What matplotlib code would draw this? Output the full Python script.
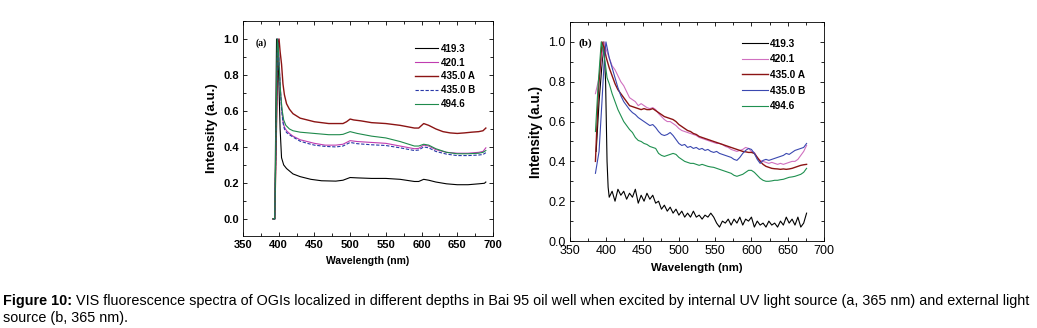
import numpy as np
import matplotlib
matplotlib.use("Agg")
import matplotlib.pyplot as plt
from matplotlib.ticker import MultipleLocator, FormatStrFormatter

plt.rcParams['font.family'] = ['Liberation Sans', 'DejaVu Sans']

# ---------- panel (a): internal UV source, smooth spectra ----------
a_labels = ["419.3", "420.1", "435.0 A", "435.0 B", "494.6"]

a_wl_419 = [392, 394.5, 397, 398.5, 400, 402, 404, 407, 411, 420, 430, 445, 460, 480, 490, 500,
            510, 530, 550, 570, 590, 596, 603, 610, 620, 635, 650, 665, 680, 688, 690]
a_in_419 = [0, 0, 1.0, 0.95, 0.8, 0.5, 0.34, 0.30, 0.28, 0.25, 0.235, 0.22, 0.212, 0.21, 0.215, 0.23,
            0.228, 0.225, 0.225, 0.22, 0.208, 0.208, 0.22, 0.215, 0.205, 0.195, 0.19, 0.19, 0.195, 0.198, 0.205]

a_wl_420 = [392, 394.5, 399, 400.5, 402, 404, 406, 408, 411, 415, 420, 430, 440, 450, 465, 480, 490,
            500, 510, 530, 550, 570, 590, 596, 603, 610, 620, 635, 650, 665, 680, 686, 690]
a_in_420 = [0, 0, 1.0, 0.9, 0.75, 0.62, 0.545, 0.51, 0.49, 0.475, 0.46, 0.44, 0.43, 0.42, 0.41, 0.41, 0.415,
            0.435, 0.43, 0.425, 0.42, 0.405, 0.39, 0.392, 0.41, 0.405, 0.385, 0.37, 0.365, 0.365, 0.37, 0.375, 0.395]

a_wl_435a = [392, 394.5, 399, 400.5, 402, 404, 406, 408, 411, 415, 420, 430, 440, 450, 460, 470, 480, 490,
             495, 500, 505, 515, 530, 550, 570, 590, 596, 603, 610, 620, 630, 640, 650, 660, 670, 680, 686, 690]
a_in_435a = [0, 0, 0.97, 1.0, 0.93, 0.86, 0.75, 0.69, 0.64, 0.61, 0.585, 0.56, 0.55, 0.54, 0.535, 0.53, 0.53, 0.53,
             0.54, 0.555, 0.55, 0.545, 0.535, 0.53, 0.52, 0.505, 0.505, 0.53, 0.52, 0.5, 0.485, 0.478, 0.475, 0.478,
             0.482, 0.485, 0.49, 0.505]

a_wl_435b = [392, 394.5, 398.5, 400, 402, 404, 406, 408, 411, 415, 420, 430, 440, 450, 465, 480, 490,
             500, 510, 530, 550, 570, 590, 596, 603, 610, 620, 635, 650, 665, 680, 686, 690]
a_in_435b = [0, 0, 1.0, 0.9, 0.74, 0.61, 0.535, 0.5, 0.48, 0.468, 0.455, 0.432, 0.42, 0.41, 0.403, 0.4, 0.405,
             0.425, 0.418, 0.412, 0.408, 0.395, 0.38, 0.383, 0.4, 0.395, 0.375, 0.36, 0.352, 0.352, 0.355, 0.358, 0.368]

a_wl_494 = [392, 394.5, 398, 399.5, 401, 403, 405, 407, 410, 415, 420, 430, 450, 470, 485, 490, 500, 510,
            530, 550, 570, 590, 596, 603, 610, 620, 635, 650, 665, 680, 686, 690]
a_in_494 = [0, 0, 1.0, 0.95, 0.82, 0.68, 0.6, 0.55, 0.52, 0.5, 0.49, 0.482, 0.475, 0.468, 0.468, 0.47, 0.485, 0.475,
            0.46, 0.45, 0.43, 0.405, 0.405, 0.415, 0.41, 0.39, 0.37, 0.362, 0.362, 0.365, 0.37, 0.38]

# ---------- panel (b): external source, noisy spectra ----------
b_grid = list(range(404, 680, 4))   # sampling positions after the peak

b_head_wl_419 = [386, 390, 396.5, 399, 401, 402.5]
b_head_in_419 = [0.45, 0.7, 1.0, 0.8, 0.4, 0.27]
b_in_419 = [0.22, 0.25, 0.20, 0.26, 0.23, 0.25, 0.21, 0.24, 0.22, 0.26,
            0.19, 0.23, 0.20, 0.24, 0.21, 0.23, 0.19, 0.20, 0.16, 0.18,
            0.15, 0.17, 0.14, 0.16, 0.13, 0.15, 0.12, 0.14, 0.12, 0.15,
            0.12, 0.13, 0.11, 0.13, 0.12, 0.14, 0.12, 0.09, 0.07, 0.10,
            0.09, 0.11, 0.08, 0.11, 0.09, 0.12, 0.08, 0.11, 0.10, 0.12,
            0.07, 0.10, 0.08, 0.09, 0.07, 0.10, 0.08, 0.09, 0.07, 0.10,
            0.08, 0.12, 0.09, 0.11, 0.08, 0.12, 0.07, 0.09, 0.14]

b_head_wl_420 = [385, 390, 393, 397, 400]
b_head_in_420 = [0.74, 0.82, 0.9, 1.0, 0.96]
b_in_420 = [0.92, 0.88, 0.86, 0.83, 0.80, 0.78, 0.75, 0.72, 0.71, 0.70,
            0.68, 0.69, 0.68, 0.67, 0.665, 0.67, 0.66, 0.64, 0.625, 0.61,
            0.60, 0.60, 0.59, 0.58, 0.565, 0.555, 0.55, 0.545, 0.54, 0.535,
            0.53, 0.52, 0.515, 0.51, 0.505, 0.50, 0.495, 0.49, 0.49, 0.485,
            0.475, 0.47, 0.46, 0.455, 0.45, 0.455, 0.46, 0.47, 0.465, 0.45,
            0.445, 0.42, 0.405, 0.40, 0.395, 0.39, 0.395, 0.39, 0.385, 0.39,
            0.385, 0.39, 0.395, 0.40, 0.40, 0.41, 0.43, 0.45, 0.48]

b_head_wl_435a = [385, 389, 394, 397, 400]
b_head_in_435a = [0.4, 0.75, 1.0, 0.97, 0.92]
b_in_435a = [0.87, 0.83, 0.79, 0.76, 0.74, 0.72, 0.70, 0.68, 0.675, 0.67,
             0.665, 0.66, 0.665, 0.66, 0.66, 0.665, 0.655, 0.645, 0.635, 0.625,
             0.62, 0.615, 0.61, 0.60, 0.585, 0.575, 0.565, 0.555, 0.55, 0.54,
             0.535, 0.525, 0.52, 0.515, 0.51, 0.505, 0.50, 0.495, 0.49, 0.485,
             0.48, 0.475, 0.47, 0.465, 0.46, 0.455, 0.45, 0.448, 0.445, 0.445,
             0.44, 0.42, 0.40, 0.385, 0.375, 0.37, 0.365, 0.363, 0.362, 0.36,
             0.362, 0.36, 0.362, 0.365, 0.37, 0.375, 0.38, 0.383, 0.385]

b_head_wl_435b = [385, 390, 394, 397, 399.5]
b_head_in_435b = [0.34, 0.45, 0.7, 0.9, 1.0]
b_in_435b = [0.92, 0.87, 0.82, 0.77, 0.73, 0.70, 0.68, 0.66, 0.645, 0.635,
             0.62, 0.61, 0.60, 0.59, 0.58, 0.585, 0.57, 0.55, 0.535, 0.53,
             0.535, 0.545, 0.53, 0.51, 0.49, 0.48, 0.485, 0.47, 0.475, 0.465,
             0.47, 0.46, 0.465, 0.455, 0.46, 0.45, 0.445, 0.45, 0.44, 0.435,
             0.43, 0.425, 0.42, 0.41, 0.405, 0.42, 0.44, 0.455, 0.465, 0.46,
             0.44, 0.41, 0.39, 0.405, 0.41, 0.405, 0.41, 0.415, 0.42, 0.425,
             0.43, 0.44, 0.435, 0.445, 0.455, 0.46, 0.465, 0.47, 0.49]

b_head_wl_494 = [385, 389, 393, 396, 399, 401]
b_head_in_494 = [0.55, 0.8, 1.0, 0.95, 0.88, 0.82]
b_in_494 = [0.79, 0.74, 0.70, 0.66, 0.63, 0.60, 0.58, 0.56, 0.545, 0.52,
            0.505, 0.50, 0.49, 0.485, 0.475, 0.47, 0.465, 0.44, 0.43, 0.425,
            0.43, 0.435, 0.44, 0.435, 0.42, 0.41, 0.40, 0.395, 0.39, 0.39,
            0.385, 0.38, 0.385, 0.38, 0.375, 0.372, 0.37, 0.365, 0.36, 0.355,
            0.35, 0.345, 0.34, 0.33, 0.325, 0.33, 0.335, 0.345, 0.355, 0.355,
            0.345, 0.33, 0.315, 0.305, 0.30, 0.30, 0.302, 0.305, 0.305, 0.308,
            0.31, 0.315, 0.32, 0.322, 0.325, 0.33, 0.335, 0.345, 0.365]

caption_bold = "Figure 10:"
caption_line1 = (" VIS fluorescence spectra of OGIs localized in different depths in Bai 95 oil well "
                 "when excited by internal UV light source (a, 365 nm) and external light")
caption_line2 = "source (b, 365 nm)."

fig = plt.figure(figsize=(10.37, 3.28), dpi=100)
ax_a = fig.add_axes([0.2343, 0.2805, 0.2411, 0.6555])
ax_b = fig.add_axes([0.5497, 0.2652, 0.2449, 0.6677])

# panel (a)
ax_a.plot(a_wl_419, a_in_419, color='black', lw=0.8, label=a_labels[0])
ax_a.plot(a_wl_420, a_in_420, color='#c03cb0', lw=0.8, label=a_labels[1])
ax_a.plot(a_wl_435a, a_in_435a, color='#8b1414', lw=1.0, label=a_labels[2])
ax_a.plot(a_wl_435b, a_in_435b, color='#2838a8', lw=0.8, ls=(0, (3, 1.5)), label=a_labels[3])
ax_a.plot(a_wl_494, a_in_494, color='#1f8a4c', lw=0.8, label=a_labels[4])

# panel (b)
ax_b.plot(b_head_wl_419 + b_grid, b_head_in_419 + b_in_419, color='black', lw=0.8, label="419.3")
ax_b.plot(b_head_wl_420 + b_grid, b_head_in_420 + b_in_420, color='#d070c0', lw=0.8, label="420.1")
ax_b.plot(b_head_wl_435a + b_grid, b_head_in_435a + b_in_435a, color='#8b1414', lw=1.0, label="435.0 A")
ax_b.plot(b_head_wl_435b + b_grid, b_head_in_435b + b_in_435b, color='#3a48b0', lw=0.8, label="435.0 B")
ax_b.plot(b_head_wl_494 + b_grid, b_head_in_494 + b_in_494, color='#1f9050', lw=0.8, label="494.6")

# tick size, label size, weight per panel
styles = {ax_a: (-0.095, 8, 7.5, 9.5, 'bold'), ax_b: (0.0, 9, 8.2, 9.8, 'normal')}
for ax, (lo, tsize, xls, yls, w) in styles.items():
    ax.set_xlim(350, 700)
    ax.set_ylim(lo, 1.1)
    ax.xaxis.set_major_locator(MultipleLocator(50))
    ax.xaxis.set_minor_locator(MultipleLocator(25))
    ax.yaxis.set_major_locator(MultipleLocator(0.2))
    ax.yaxis.set_minor_locator(MultipleLocator(0.1))
    ax.yaxis.set_major_formatter(FormatStrFormatter('%.1f'))
    ax.tick_params(which='both', direction='in', top=True, right=True, labelsize=tsize, pad=3)
    ax.tick_params(which='major', length=3, width=0.6)
    ax.tick_params(which='minor', length=2, width=0.6)
    for s in ax.spines.values():
        s.set_linewidth(0.6)
    ax.set_xlabel("Wavelength (nm)", fontsize=xls, fontweight='bold', labelpad=4)
    ax.set_ylabel("Intensity (a.u.)", fontsize=yls, fontweight='bold', labelpad=4)
    for t in ax.get_xticklabels() + ax.get_yticklabels():
        t.set_fontweight(w)

ax_a.text(0.072, 0.898, "(a)", transform=ax_a.transAxes, fontsize=7, fontweight='bold',
          family='Liberation Serif', ha='center', va='center')
ax_b.text(0.062, 0.904, "(b)", transform=ax_b.transAxes, fontsize=8, fontweight='bold',
          family='Liberation Serif', ha='center', va='center')

ax_a.legend(loc='upper left', bbox_to_anchor=(0.655, 0.935), frameon=False,
            handlelength=2.3, handletextpad=0.3, labelspacing=0.4, prop={'weight': 'bold', 'size': 7})
ax_b.legend(loc='upper left', bbox_to_anchor=(0.64, 0.965), frameon=False,
            handlelength=2.6, handletextpad=0.2, labelspacing=0.55, prop={'weight': 'bold', 'size': 7.3})

# caption
fig.canvas.draw()
r = fig.canvas.get_renderer()
tb = fig.text(3 / 1037, 1 - 301 / 328, caption_bold, fontsize=10.35, fontweight='bold', va='center')
bb = tb.get_window_extent(r)
fig.text(bb.x1 / 1037, 1 - 301 / 328, caption_line1, fontsize=10.35, va='center')
fig.text(3 / 1037, 1 - 318 / 328, caption_line2, fontsize=10.35, va='center')

fig.savefig("out.png", dpi=100)
